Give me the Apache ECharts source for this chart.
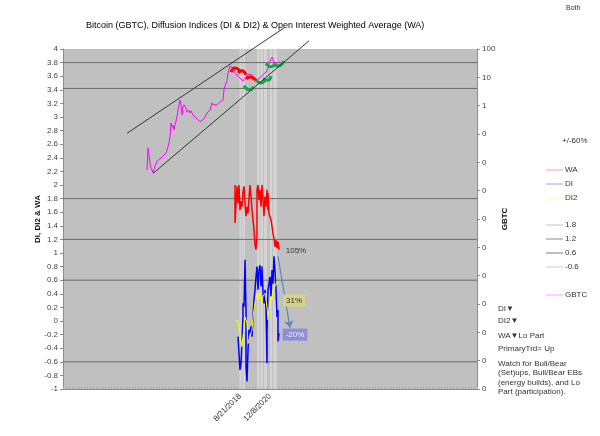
<!DOCTYPE html>
<html>
<head>
<meta charset="utf-8">
<script src="https://cdn.jsdelivr.net/npm/echarts@6/dist/echarts.min.js"></script>
<style>
html,body{margin:0;padding:0;background:#fff;}
#main{width:600px;height:436px;}
</style>
</head>
<body>
<div id="main"></div>
<script>
// x = period index along the bottom axis (0..414)
const xMax = 414;
const dateIdx = [177, 207];
const dateLabels = ['8/21/2018', '12/8/2020'];

const gbtcIdx = [84,85,86,87,88,90,92,94,96,99,101,103,104,105,106,107,108,109,110,111,112,113,114,116,117,118,119,120,121,123,124,126,127,128,130,132,134,135,137,139,140,142,144,145,147,149,150,152,154,156,158,160,161,162,164,165,167,169,170,172,174,175,177,180,182,184,185,187,189,191,193,195,198,200,203,205,206,208,209,210,212,213,215,217];
const gbtcVal = [2.22,2.54,2.44,2.32,2.25,2.18,2.28,2.35,2.37,2.41,2.44,2.47,2.51,2.56,2.62,2.71,2.91,2.85,2.88,2.81,2.88,2.94,3.01,3.18,3.25,3.19,3.03,3.15,3.18,3.13,3.07,3.10,3.06,3.09,3.03,3.00,2.99,2.96,2.93,2.93,2.96,3.00,3.06,3.04,3.10,3.21,3.18,3.19,3.18,3.21,3.22,3.25,3.40,3.46,3.53,3.65,3.75,3.76,3.72,3.65,3.65,3.60,3.57,3.53,3.57,3.60,3.63,3.65,3.62,3.57,3.54,3.56,3.59,3.62,3.66,3.72,3.79,3.85,3.88,3.84,3.79,3.79,3.80,3.81];

const waIdx = [172,172,174,175,176,177,178,179,180,181,182,183,184,185,186,187,188,189,190,191,192,193,194,194,195,196,197,198,199,200,201,202,203,204,205,205,206,208,209,210,211,212,213,214,215,216,216];
const waVal = [2.00,1.44,1.98,1.73,2.00,1.63,1.76,1.68,1.90,1.98,1.73,1.54,1.68,1.58,1.80,2.00,1.83,1.63,1.49,1.34,1.12,1.05,1.24,1.93,2.00,1.78,1.93,1.68,2.00,1.78,1.54,1.83,1.68,1.93,1.63,1.88,1.58,1.49,1.39,1.29,1.22,1.09,1.19,1.07,1.17,1.05,1.08];

const diIdx = [175,177,178,179,180,180,181,182,183,183,184,185,186,187,188,189,190,191,192,193,194,195,196,197,198,199,199,200,201,202,203,204,204,205,206,207,208,209,210,211,212,213,214,215,215,216];
const diVal = [-0.23,-0.72,-0.62,-0.28,0.06,0.26,0.21,0.90,0.16,-0.67,-0.89,-0.43,-0.13,-0.18,-0.08,-0.23,0.06,0.31,0.46,0.65,0.80,0.46,0.75,0.82,0.51,0.65,0.80,0.41,0.26,0.46,0.16,-0.62,-0.18,0.46,0.55,0.65,0.36,0.75,0.55,0.95,0.75,0.46,0.06,0.16,-0.30,-0.18];

const di2Idx = [172,175,177,179,180,182,184,185,187,189,190,192,194,195,197,199,200,202,204,205,206,208,209,210,212,214,215];
const di2Val = [0.00,0.00,-0.18,-0.38,-0.23,0.06,-0.03,-0.33,-0.23,-0.13,0.06,0.26,0.41,0.31,0.41,0.26,0.36,0.41,0.21,0.02,0.16,0.36,0.31,0.46,0.51,0.58,0.55];

// setup / energy build marks on GBTC
const redArcIdx = [[168,172,177],[175,179,183],[183,187,193]];
const redArcVal = [[3.66,3.72,3.68],[3.65,3.68,3.62],[3.56,3.59,3.54]];
const greenArcIdx = [[181,186,191],[193,198,202],[200,205,208],[203,208,213],[210,215,221]];
const greenArcVal = [[3.46,3.40,3.44],[3.54,3.50,3.54],[3.56,3.54,3.60],[3.79,3.74,3.78],[3.78,3.75,3.82]];

// channel lines
const trendIdx = [[64,222],[90,246]];
const trendVal = [[2.76,4.32],[2.17,4.12]];

const levelVal = [3.8, 3.42, 1.8, 1.2, 0.6, -0.6];
const levelName = ['hi60', 'lo60', '1.8', '1.2', '0.6', '-0.6'];
const levelLegend = ['#bdbdbd', '#8a8a8a', '#7a7a7a', '#cfcfcf'];

const stripFrom = [176.5,179.5,194,197.5,201,207,210];
const stripTo = [178.5,182,196.5,200,204,209,214];

const noteText = ['105%', '31%', '-20%'];
const noteIdx = [233, 231, 232];
const noteVal = [1.03, 0.30, -0.20];
const arrowIdx = [215, 227];
const arrowVal = [0.95, -0.10];

const FONT = 'Liberation Sans, Arial, sans-serif';

function zip(xs, ys){
	return xs.map((x, i) => [x, ys[i]]);
}

function lineSeries(name, data, color, width, extra){
	return Object.assign({
		name: name,
		type: 'line',
		data: data,
		symbol: 'none',
		silent: true,
		animation: false,
		lineStyle: { color: color, width: width }
	}, extra || {});
}

function setSeriesArray(){
	let arr = [];

	levelVal.forEach((v, i) => {
		let s = lineSeries(levelName[i], [[0, v], [xMax, v]], '#6b6b6b', 1, { z: 1 });
		if(i === 0){
			s.markArea = {
				silent: true,
				itemStyle: { color: 'rgba(236,236,236,0.45)' },
				data: stripFrom.map((f, k) => [{ xAxis: f }, { xAxis: stripTo[k] }])
			};
		}
		arr.push(s);
	});

	arr.push(lineSeries('GBTC', zip(gbtcIdx, gbtcVal), '#ff00ff', 1, { z: 3 }));
	arr.push(lineSeries('WA', zip(waIdx, waVal), '#ff0000', 1.5, { z: 3 }));
	arr.push(lineSeries('DI', zip(diIdx, diVal), '#0000ff', 1.5, {
		z: 3,
		markLine: {
			silent: true,
			symbol: ['none', 'arrow'],
			symbolSize: 7,
			label: { show: false },
			lineStyle: { color: '#5b8ab5', width: 1.2, type: 'solid' },
			data: [[{ coord: [arrowIdx[0], arrowVal[0]] }, { coord: [arrowIdx[1], arrowVal[1]] }]]
		},
		markPoint: {
			silent: true,
			symbol: 'rect',
			symbolSize: 0,
			data: noteText.map((t, i) => {
				let lbl = { show: true, formatter: t, fontSize: 8, fontFamily: FONT, color: '#333', padding: [2, 3] };
				if(i === 1){ lbl.backgroundColor = '#d4d48a'; }
				if(i === 2){ lbl.backgroundColor = '#8e8ed8'; lbl.color = '#f2f2f2'; }
				return { coord: [noteIdx[i], noteVal[i]], label: lbl };
			})
		}
	}));
	arr.push(lineSeries('DI2', zip(di2Idx, di2Val), '#ffff00', 1, { z: 4 }));

	redArcIdx.forEach((a, i) => {
		arr.push(lineSeries('setR' + i, zip(a, redArcVal[i]), '#ff0000', 3, { smooth: true, z: 5 }));
	});
	greenArcIdx.forEach((a, i) => {
		arr.push(lineSeries('setG' + i, zip(a, greenArcVal[i]), '#10a848', 3, { smooth: true, z: 5 }));
	});
	trendIdx.forEach((a, i) => {
		arr.push(lineSeries('trend' + i, zip(a, trendVal[i]), '#333', 1, { clip: false, z: 6 }));
	});

	return arr;
}

function legendBox(names, colors, top){
	return {
		orient: 'vertical',
		left: 541,
		top: top,
		itemWidth: 17,
		itemHeight: 1,
		itemGap: 4,
		selectedMode: false,
		textStyle: { fontSize: 8, fontFamily: FONT, color: '#333', lineHeight: 10, padding: [0, 0, 0, -3] },
		data: names.map((n, i) => ({ name: n, icon: 'rect', itemStyle: { color: colors[i] } }))
	};
}

function textEl(txt, x, y, size, lh){
	return {
		type: 'text', left: x, top: y, silent: true,
		style: { text: txt, fontSize: size, fontFamily: FONT, fill: '#333', lineHeight: lh || size + 2 }
	};
}

function initOpt(){
	const axisGray = '#8c8c8c';
	return {
		backgroundColor: '#fff',
		animation: false,
		title: {
			text: 'Bitcoin (GBTC), Diffusion Indices (DI & DI2) & Open Interest Weighted Average (WA)',
			left: 81,
			top: 16,
			textStyle: { fontSize: 9, fontWeight: 'normal', color: '#000', fontFamily: FONT }
		},
		legend: [
			legendBox(['WA', 'DI', 'DI2'], ['#ff9a9a', '#9a9aff', '#ffff9a'], 160),
			legendBox(levelName.slice(2), levelLegend, 215),
			legendBox(['GBTC'], ['#ff9aff'], 285)
		],
		grid: {
			left: 63, right: 123, top: 49, bottom: 47,
			show: true, backgroundColor: '#c0c0c0', borderWidth: 0
		},
		xAxis: {
			type: 'value',
			min: 0,
			max: xMax,
			interval: 3,
			splitLine: { show: false },
			axisLine: { onZero: false, lineStyle: { color: axisGray } },
			axisTick: { inside: true, length: 2, lineStyle: { color: '#a8a8a8' } },
			axisLabel: {
				rotate: 45,
				margin: 6,
				fontSize: 8,
				fontFamily: FONT,
				color: '#333',
				formatter: (v) => {
					let k = dateIdx.indexOf(Math.round(v));
					return k >= 0 ? dateLabels[k] : '';
				}
			}
		},
		yAxis: [{
			type: 'value',
			min: -1,
			max: 4,
			interval: 0.2,
			name: 'DI, DI2 & WA',
			nameLocation: 'middle',
			nameGap: 21,
			nameMoveOverlap: false,
			nameTextStyle: { fontSize: 8, fontWeight: 'bold', color: '#111', fontFamily: FONT },
			splitLine: { show: false },
			axisLine: { show: true, lineStyle: { color: axisGray } },
			axisTick: { show: true, length: 3, lineStyle: { color: axisGray } },
			axisLabel: { fontSize: 8, fontFamily: FONT, color: '#444', margin: 5 }
		}, {
			type: 'log',
			logBase: 10,
			min: 1e-10,
			max: 100,
			interval: 1,
			position: 'right',
			name: 'GBTC',
			nameLocation: 'middle',
			nameRotate: 90,
			nameGap: 24,
			nameMoveOverlap: false,
			nameTextStyle: { fontSize: 8, fontWeight: 'bold', color: '#111', fontFamily: FONT },
			splitLine: { show: false },
			axisLine: { show: true, lineStyle: { color: axisGray } },
			axisTick: { show: true, length: 3, lineStyle: { color: axisGray } },
			axisLabel: {
				fontSize: 8, fontFamily: FONT, color: '#444', margin: 5,
				formatter: (v) => v >= 1 ? String(Math.round(v)) : '0'
			}
		}],
		graphic: [
			textEl('Both', 566, 4, 7),
			textEl('+/-60%', 562, 136, 8),
			textEl('DI\u25BC', 498, 304, 8),
			textEl('DI2\u25BC', 498, 316, 8),
			textEl('WA\u25BCLo Part', 498, 331, 8),
			textEl('PrimaryTrd= Up', 498, 344, 8),
			textEl('Watch for Bull/Bear\n(Set)ups, Bull/Bear EBs\n(energy builds), and Lo\nPart (participation).', 498, 359, 8, 9.5)
		],
		series: setSeriesArray()
	};
}

const myChart = echarts.init(document.getElementById('main'));
myChart.setOption(initOpt());
</script>
</body>
</html>
